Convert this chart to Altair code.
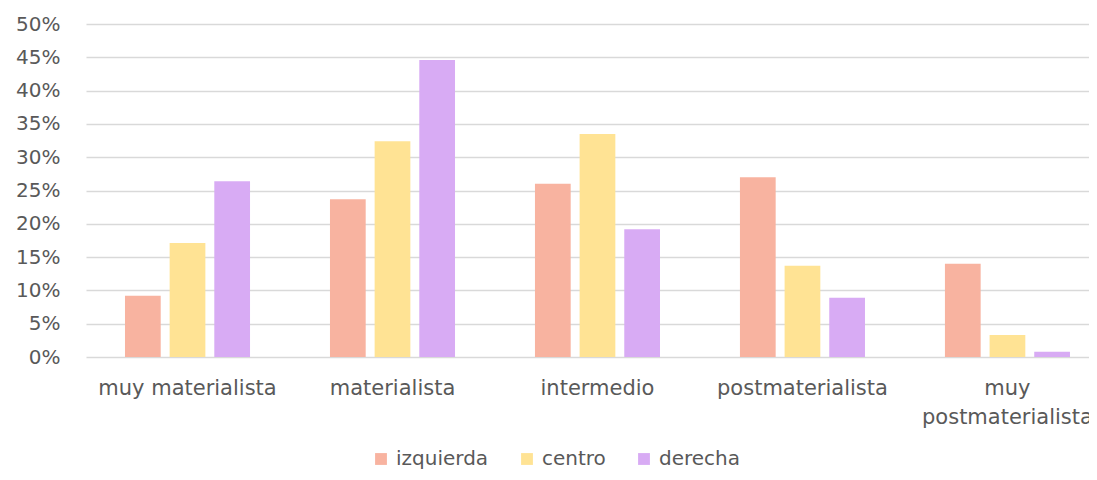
import altair as alt
import pandas as pd

categories = ["muy materialista", "materialista", "intermedio", "postmaterialista", "muy postmaterialista"]
series = ["izquierda", "centro", "derecha"]
izquierda = [0.092, 0.237, 0.260, 0.270, 0.140]
centro = [0.171, 0.324, 0.335, 0.137, 0.033]
derecha = [0.264, 0.446, 0.192, 0.089, 0.008]
colors = ["#F8B3A0", "#FFE394", "#D8ABF4"]

rows = []
for i, c in enumerate(categories):
    for s, vals in zip(series, [izquierda, centro, derecha]):
        rows.append({"cat": c, "serie": s, "val": vals[i]})
df = pd.DataFrame(rows)

FONT = "DejaVu Sans"
TXT = "#595959"

chart = alt.Chart(df).mark_bar().encode(
    x=alt.X("cat:N", sort=categories, title=None,
            scale=alt.Scale(paddingInner=0.39, paddingOuter=0.1415, align=0.672),
            axis=alt.Axis(labelAngle=0, domain=False, ticks=False, grid=False,
                          labelFontSize=21, labelColor=TXT, labelFont=FONT,
                          labelPadding=20, labelLineHeight=29, labelLimit=400,
                          labelExpr="datum.value == 'muy postmaterialista' ? ['muy', 'postmaterialista'] : datum.value")),
    xOffset=alt.XOffset("serie:N", sort=series, scale=alt.Scale(paddingInner=0.2)),
    y=alt.Y("val:Q", title=None,
            scale=alt.Scale(domain=[0, 0.5], nice=False),
            axis=alt.Axis(format=".0%", values=[i / 100 for i in range(0, 51, 5)],
                          domain=False, ticks=False, labelFontSize=20, labelColor=TXT,
                          labelFont=FONT, labelPadding=26, gridColor="#D9D9D9",
                          gridWidth=1.5)),
    color=alt.Color("serie:N", sort=series,
                    scale=alt.Scale(domain=series, range=colors),
                    legend=alt.Legend(title=None, orient="none", direction="horizontal",
                                      legendX=285, legendY=425, symbolType="square",
                                      symbolSize=140, labelFontSize=20, labelColor=TXT,
                                      labelFont=FONT, columnPadding=28, symbolOffset=0,
                                      labelOffset=5)),
).properties(
    width=1003, height=333,
    background="white",
    autosize=alt.AutoSizeParams(type="none"),
    padding={"left": 78, "top": 16, "right": 0, "bottom": 115},
).configure_view(strokeWidth=0)

chart.save("out.html", embed_options={"renderer": "svg", "actions": False})
